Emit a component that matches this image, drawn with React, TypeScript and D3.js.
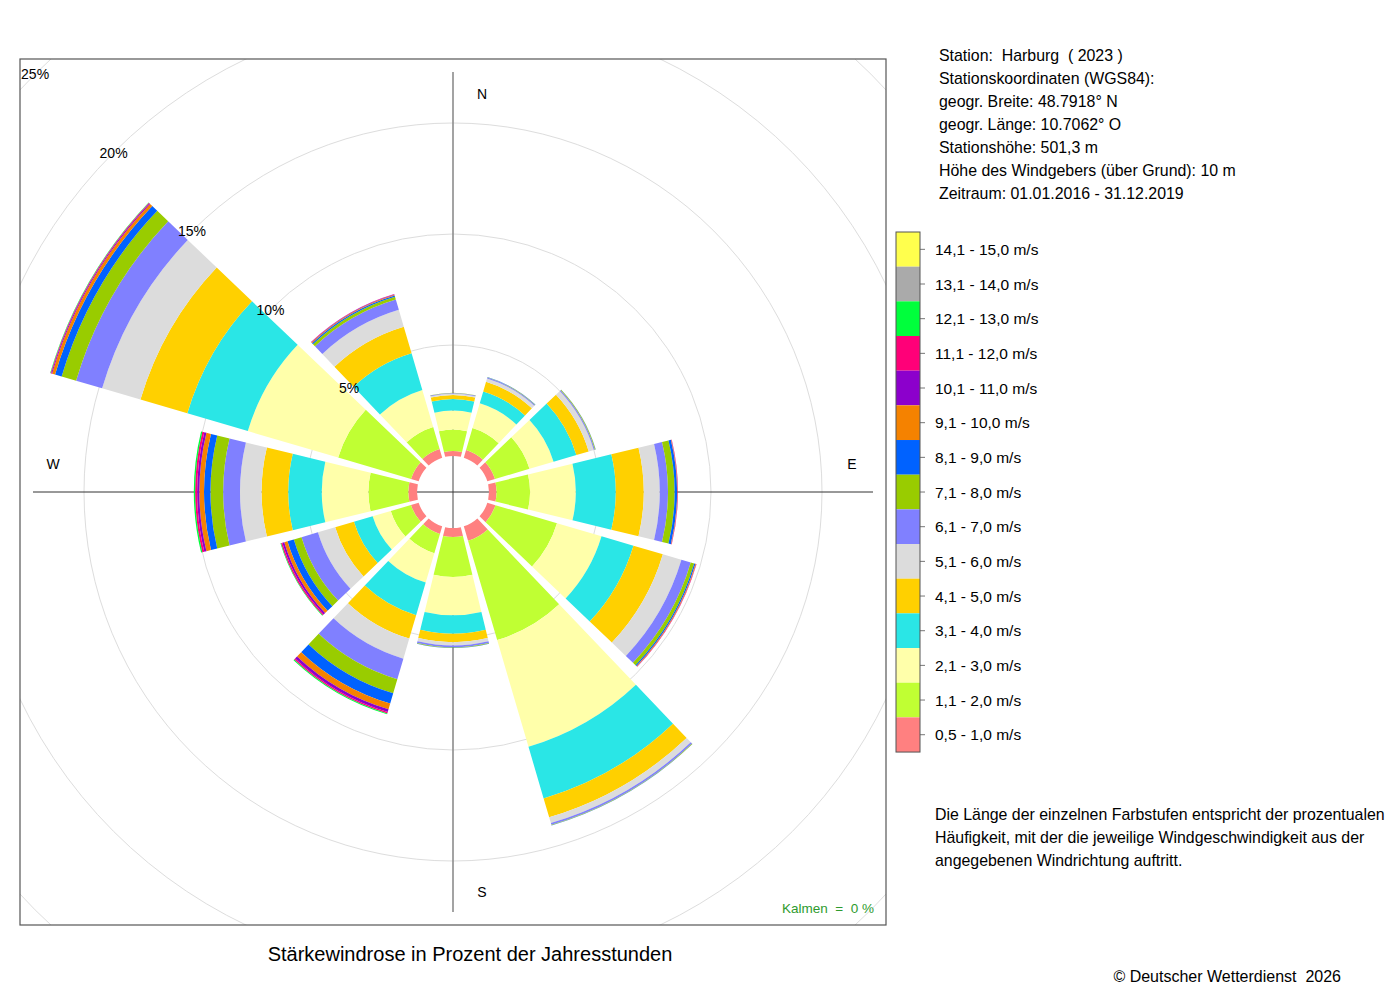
import React from 'react';
import * as d3 from 'd3';

// compass directions of the 12 sectors (degrees, clockwise from north)
const directions = [0, 30, 60, 90, 120, 150, 180, 210, 240, 270, 300, 330];

const speedClasses = [
  '0,5 - 1,0 m/s',
  '1,1 - 2,0 m/s',
  '2,1 - 3,0 m/s',
  '3,1 - 4,0 m/s',
  '4,1 - 5,0 m/s',
  '5,1 - 6,0 m/s',
  '6,1 - 7,0 m/s',
  '7,1 - 8,0 m/s',
  '8,1 - 9,0 m/s',
  '9,1 - 10,0 m/s',
  '10,1 - 11,0 m/s',
  '11,1 - 12,0 m/s',
  '12,1 - 13,0 m/s',
  '13,1 - 14,0 m/s',
  '14,1 - 15,0 m/s',
];

const classColors = [
  '#FF8080',
  '#C0FF33',
  '#FFFFAA',
  '#2AE6E6',
  '#FFD000',
  '#DCDCDC',
  '#8080FF',
  '#99CC00',
  '#0062FF',
  '#F58200',
  '#8C00CC',
  '#FF0078',
  '#00FF3C',
  '#AAAAAA',
  '#FFFF4D',
];

// percent of annual hours, one value per direction (0°, 30°, ... 330°)
const v05to10 = [0.23, 0.36, 0.36, 0.34, 0.38, 0.68, 0.41, 0.36, 0.36, 0.39, 0.36, 0.41];
const v11to20 = [0.96, 1.03, 1.62, 1.51, 2.89, 4.66, 1.8, 0.9, 0.95, 1.8, 3.42, 1.03];
const v21to30 = [0.86, 1.16, 1.13, 2.06, 2.09, 5.01, 1.72, 1.38, 0.85, 2.1, 4.24, 1.74];
const v31to40 = [0.52, 0.56, 1.07, 1.8, 1.5, 2.42, 0.83, 1.53, 0.88, 1.51, 2.84, 1.72];
const v41to50 = [0.18, 0.45, 0.58, 1.26, 1.38, 0.89, 0.38, 1.1, 0.88, 1.2, 2.2, 1.25];
const v51to60 = [0.06, 0.16, 0.24, 0.72, 0.87, 0.27, 0.15, 0.94, 0.81, 0.97, 1.8, 0.79];
const v61to70 = [0.03, 0.04, 0.05, 0.37, 0.44, 0.08, 0.08, 0.97, 0.77, 0.76, 1.22, 0.48];
const v71to80 = [0.01, 0.02, 0.03, 0.3, 0.16, 0.02, 0.02, 0.66, 0.36, 0.57, 0.68, 0.13];
const v81to90 = [0, 0.01, 0.01, 0.11, 0.06, 0.01, 0.01, 0.48, 0.3, 0.29, 0.31, 0.06];
const v91to100 = [0, 0, 0, 0.02, 0.03, 0, 0, 0.27, 0.15, 0.21, 0.14, 0.04];
const v101to110 = [0, 0, 0, 0.01, 0.01, 0, 0, 0.13, 0.09, 0.1, 0.04, 0.02];
const v111to120 = [0, 0, 0, 0.01, 0.01, 0, 0, 0.06, 0.06, 0.09, 0.03, 0.01];
const v121to130 = [0, 0, 0, 0, 0, 0, 0, 0.04, 0.03, 0.06, 0.02, 0];
const v131to140 = [0, 0, 0, 0, 0, 0, 0, 0, 0, 0, 0, 0];
const v141to150 = [0, 0, 0, 0, 0, 0, 0, 0, 0, 0, 0, 0];

const classValues = [
  v05to10, v11to20, v21to30, v31to40, v41to50, v51to60, v61to70, v71to80,
  v81to90, v91to100, v101to110, v111to120, v121to130, v131to140, v141to150,
];

const percentTicks = [5, 10, 15, 20, 25];

const stationLines = [
  'Station:  Harburg  ( 2023 )',
  'Stationskoordinaten (WGS84):',
  'geogr. Breite: 48.7918° N',
  'geogr. Länge: 10.7062° O',
  'Stationshöhe: 501,3 m',
  'Höhe des Windgebers (über Grund): 10 m',
  'Zeitraum: 01.01.2016 - 31.12.2019',
];

const noteLines = [
  'Die Länge der einzelnen Farbstufen entspricht der prozentualen',
  'Häufigkeit, mit der die jeweilige Windgeschwindigkeit aus der',
  'angegebenen Windrichtung auftritt.',
];

const FONT = '"Liberation Sans", Arial, Helvetica, sans-serif';

export default function App() {
  const width = 1400;
  const height = 1000;
  const box = { x: 20, y: 59, w: 866, h: 866 };
  const cx = 453;
  const cy = 492;

  const rScale = d3.scaleLinear().domain([0, 25]).range([36, 591]);
  const halfWidth = (13.65 * Math.PI) / 180;
  const toRad = (deg: number) => (deg * Math.PI) / 180;

  const keys = speedClasses.map((_, k) => `c${k}`);
  const rows = directions.map((dir, i) => {
    const row: Record<string, number> = { dir };
    classValues.forEach((vals, k) => {
      row[`c${k}`] = vals[i];
    });
    return row;
  });
  const series = d3.stack<Record<string, number>>().keys(keys)(rows);

  const arc = d3
    .arc<{ a: number; r0: number; r1: number }>()
    .innerRadius((d) => d.r0)
    .outerRadius((d) => d.r1)
    .startAngle((d) => d.a - halfWidth)
    .endAngle((d) => d.a + halfWidth)
    .padAngle(0.014)
    .padRadius(100);

  const legend = { x: 896, y: 232, w: 24, cell: 34.67 };
  const legendOrder = speedClasses.map((_, k) => speedClasses.length - 1 - k);
  const pre = { whiteSpace: 'pre' as const };

  return (
    <div style={{ position: 'absolute', left: 0, top: 0 }}>
      <svg width={width} height={height} style={{ display: 'block', fontFamily: FONT }}>
        <rect x={0} y={0} width={width} height={height} fill="#fff" />
        <defs>
          <clipPath id="plotClip">
            <rect x={box.x} y={box.y} width={box.w} height={box.h} />
          </clipPath>
        </defs>

        <g clipPath="url(#plotClip)">
          {percentTicks.map((p) => (
            <circle
              key={p}
              cx={cx}
              cy={cy}
              r={rScale(p)}
              fill="none"
              stroke="#DDDDDD"
              strokeWidth={1}
            />
          ))}
        </g>

        <line x1={cx} y1={cy - 420} x2={cx} y2={cy + 420} stroke="#8C8C8C" strokeWidth={1.6} />
        <line x1={cx - 420} y1={cy} x2={cx + 420} y2={cy} stroke="#333" strokeWidth={1} />

        <g transform={`translate(${cx},${cy})`}>
          {series.map((s, k) =>
            s.map((d, i) => {
              if (d[1] - d[0] <= 0) return null;
              return (
                <path
                  key={`${k}-${i}`}
                  d={arc({ a: toRad(directions[i]), r0: rScale(d[0]), r1: rScale(d[1]) }) || ''}
                  fill={classColors[k]}
                />
              );
            })
          )}
        </g>

        {percentTicks.map((p) => {
          const r = rScale(p);
          const a = toRad(315);
          return (
            <text
              key={p}
              x={cx + r * Math.sin(a)}
              y={cy - r * Math.cos(a)}
              textAnchor="middle"
              dominantBaseline="central"
              fontSize={14}
              fill="#000"
            >
              {`${p}%`}
            </text>
          );
        })}

        <text x={cx + 29} y={cy - 398} textAnchor="middle" dominantBaseline="central" fontSize={14}>N</text>
        <text x={cx + 29} y={cy + 400} textAnchor="middle" dominantBaseline="central" fontSize={14}>S</text>
        <text x={cx - 400} y={cy - 28} textAnchor="middle" dominantBaseline="central" fontSize={14}>W</text>
        <text x={cx + 399} y={cy - 28} textAnchor="middle" dominantBaseline="central" fontSize={14}>E</text>

        <text x={874} y={908} textAnchor="end" dominantBaseline="central" fontSize={13.5} fill="#2E9B2E" style={pre}>
          {'Kalmen  =  0 %'}
        </text>

        <rect x={box.x} y={box.y} width={box.w} height={box.h} fill="none" stroke="#555" strokeWidth={1.2} />

        <text x={470} y={954} textAnchor="middle" dominantBaseline="central" fontSize={20} fill="#000">
          Stärkewindrose in Prozent der Jahresstunden
        </text>

        {stationLines.map((line, i) => (
          <text key={i} x={939} y={55 + i * 23} dominantBaseline="central" fontSize={15.9} fill="#000" style={pre}>
            {line}
          </text>
        ))}

        {legendOrder.map((k, j) => {
          const y = legend.y + j * legend.cell;
          return (
            <g key={k}>
              <rect x={legend.x} y={y} width={legend.w} height={legend.cell} fill={classColors[k]} />
              <line
                x1={legend.x + legend.w}
                x2={legend.x + legend.w + 5}
                y1={y + legend.cell / 2}
                y2={y + legend.cell / 2}
                stroke="#777"
                strokeWidth={1}
              />
              <text x={935} y={y + legend.cell / 2} dominantBaseline="central" fontSize={15.5} fill="#000">
                {speedClasses[k]}
              </text>
            </g>
          );
        })}
        <rect
          x={legend.x}
          y={legend.y}
          width={legend.w}
          height={legend.cell * speedClasses.length}
          fill="none"
          stroke="#555"
          strokeWidth={1}
        />

        {noteLines.map((line, i) => (
          <text key={i} x={935} y={814 + i * 23} dominantBaseline="central" fontSize={15.9} fill="#000">
            {line}
          </text>
        ))}

        <text x={1341} y={976} textAnchor="end" dominantBaseline="central" fontSize={16} fill="#000" style={pre}>
          {'© Deutscher Wetterdienst  2026'}
        </text>
      </svg>
    </div>
  );
}
